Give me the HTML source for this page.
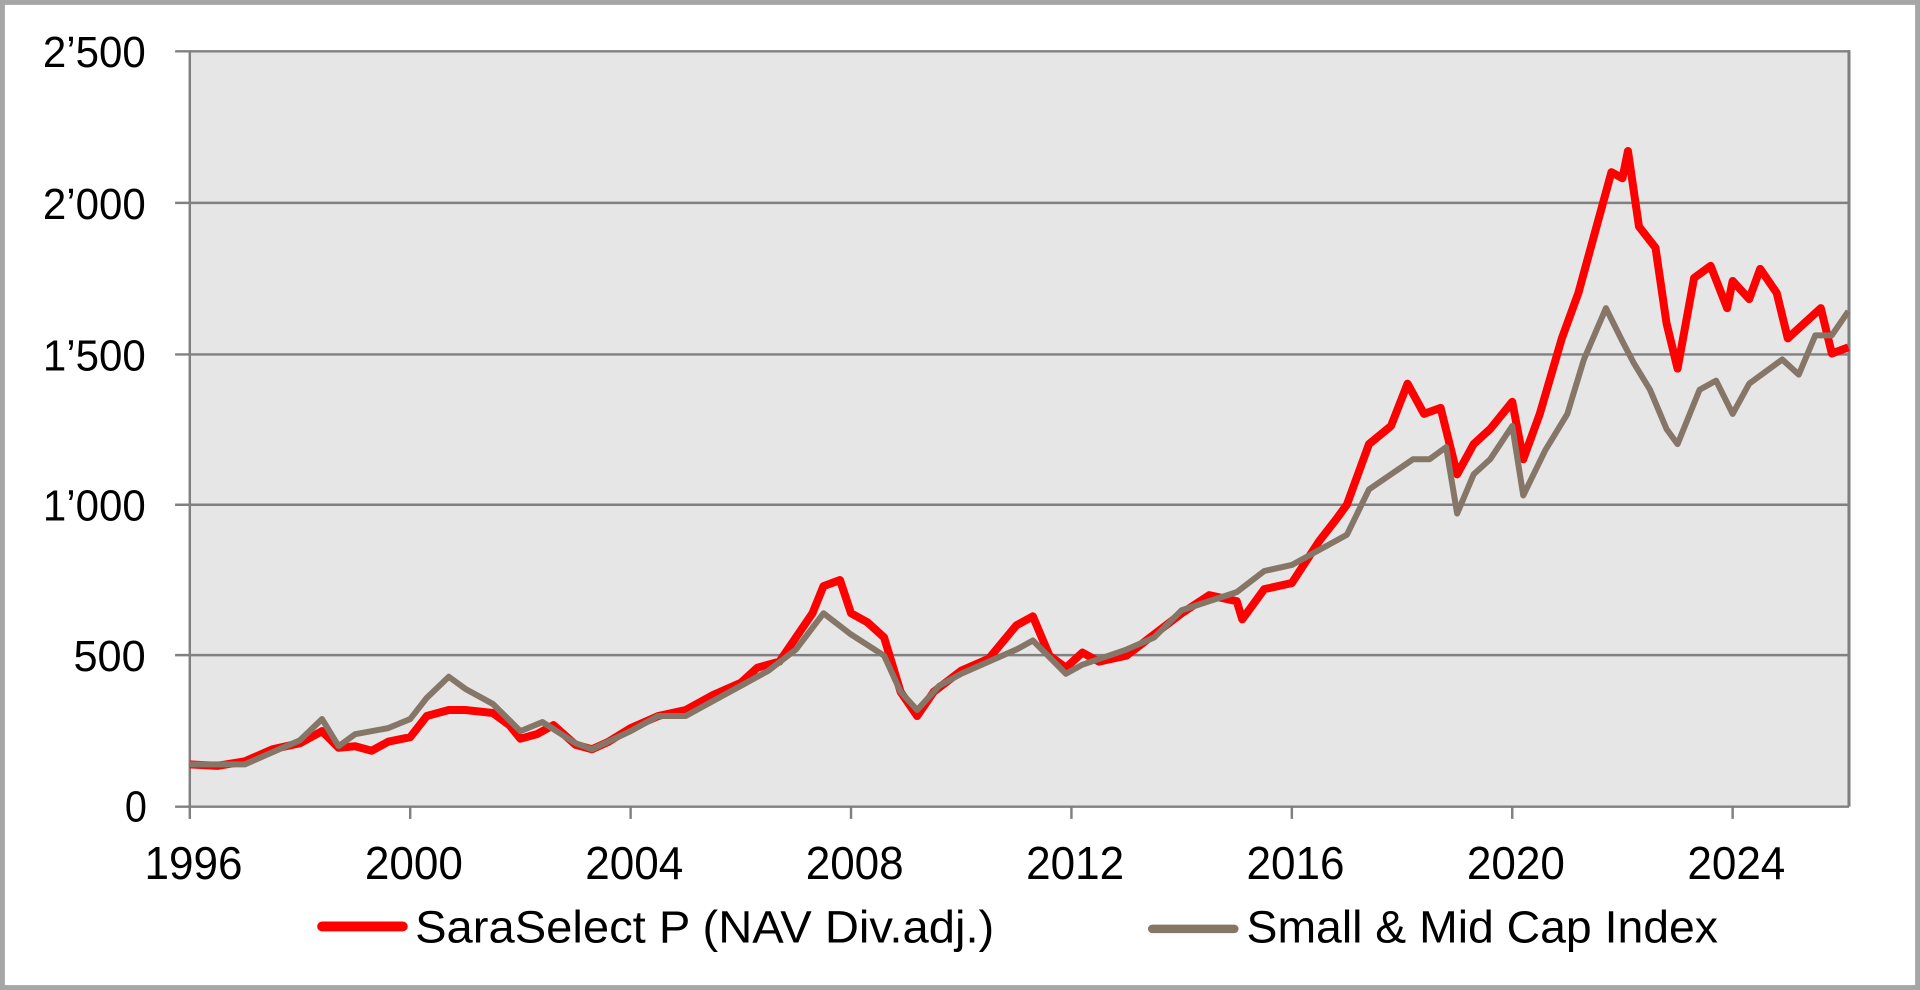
<!DOCTYPE html>
<html><head><style>html,body{margin:0;padding:0;background:#fff;width:1920px;height:990px;overflow:hidden}</style></head>
<body>
<svg width="1920" height="990" viewBox="0 0 1568 810" preserveAspectRatio="none" xmlns="http://www.w3.org/2000/svg" font-family="Liberation Sans, Arial, sans-serif">
<rect x="2" y="2" width="1564" height="806" fill="#fff" stroke="#a6a6a6" stroke-width="4"/>
<rect x="155" y="42" width="1355" height="618" fill="#e6e6e6"/>
<g stroke="#808080" stroke-width="2">
<line x1="143" y1="42" x2="1510" y2="42"/>
<line x1="143" y1="166" x2="1510" y2="166"/>
<line x1="143" y1="290" x2="1510" y2="290"/>
<line x1="143" y1="413" x2="1510" y2="413"/>
<line x1="143" y1="536" x2="1510" y2="536"/>
<line x1="143" y1="660" x2="1510" y2="660"/>
<line x1="155" y1="42" x2="155" y2="670"/>
<line x1="1510" y1="41" x2="1510" y2="660" stroke-width="2.5"/>
<line x1="335" y1="660" x2="335" y2="670"/><line x1="515" y1="660" x2="515" y2="670"/>
<line x1="695" y1="660" x2="695" y2="670"/><line x1="875" y1="660" x2="875" y2="670"/>
<line x1="1055" y1="660" x2="1055" y2="670"/><line x1="1235" y1="660" x2="1235" y2="670"/>
<line x1="1415" y1="660" x2="1415" y2="670"/>
</g>
<g font-size="36" fill="#000">
<text x="35" y="55" textLength="84" lengthAdjust="spacingAndGlyphs">2’500</text>
<text x="35" y="179" textLength="84" lengthAdjust="spacingAndGlyphs">2’000</text>
<text x="35" y="303" textLength="84" lengthAdjust="spacingAndGlyphs">1’500</text>
<text x="35" y="426" textLength="84" lengthAdjust="spacingAndGlyphs">1’000</text>
<text x="60" y="549" textLength="59" lengthAdjust="spacingAndGlyphs">500</text>
<text x="102" y="672" textLength="18" lengthAdjust="spacingAndGlyphs">0</text>
</g>
<g font-size="38" fill="#000">
<text x="118" y="719" textLength="80" lengthAdjust="spacingAndGlyphs">1996</text>
<text x="298" y="719" textLength="80" lengthAdjust="spacingAndGlyphs">2000</text>
<text x="478" y="719" textLength="80" lengthAdjust="spacingAndGlyphs">2004</text>
<text x="658" y="719" textLength="80" lengthAdjust="spacingAndGlyphs">2008</text>
<text x="838" y="719" textLength="80" lengthAdjust="spacingAndGlyphs">2012</text>
<text x="1018" y="719" textLength="80" lengthAdjust="spacingAndGlyphs">2016</text>
<text x="1198" y="719" textLength="80" lengthAdjust="spacingAndGlyphs">2020</text>
<text x="1378" y="719" textLength="80" lengthAdjust="spacingAndGlyphs">2024</text>
</g>
<g transform="translate(155,660) scale(45,-0.2472)" fill="none" stroke-linejoin="round">
<polyline vector-effect="non-scaling-stroke" stroke="#ff0000" stroke-width="8" points="0,140 0.5,135 1,150 1.5,190 2,210 2.4,250 2.7,195 3,200 3.3,185 3.6,215 4,230 4.3,300 4.7,320 5,320 5.5,310 5.8,270 6,225 6.3,240 6.6,270 7,205 7.3,190 7.6,215 8,260 8.5,300 9,320 9.5,370 10,410 10.3,460 10.7,480 11,560 11.3,640 11.5,730 11.8,750 12,640 12.3,610 12.6,560 12.9,380 13.2,300 13.5,380 14,450 14.5,490 15,600 15.3,630 15.6,500 15.9,460 16.2,510 16.5,480 17,500 17.5,570 18,640 18.5,700 19,680 19.1,620 19.5,720 20,740 20.5,880 20.8,950 21,1000 21.4,1200 21.8,1260 22.1,1400 22.4,1300 22.7,1320 23,1100 23.3,1200 23.6,1250 24,1340 24.2,1150 24.5,1300 24.9,1550 25.2,1700 25.5,1900 25.8,2100 26,2080 26.1,2170 26.3,1920 26.6,1850 26.8,1600 27,1450 27.3,1750 27.6,1790 27.9,1650 28,1740 28.3,1680 28.5,1780 28.8,1700 29,1550 29.3,1600 29.6,1650 29.8,1500 30.1,1520"/>
<polyline vector-effect="non-scaling-stroke" stroke="#857668" stroke-width="6" points="0,140 1,140 1.5,180 2,220 2.4,290 2.7,200 3,240 3.6,260 4,290 4.3,360 4.7,430 5,390 5.5,340 6,250 6.4,280 7,210 7.3,190 8,250 8.5,300 9,300 9.5,350 10,400 10.5,450 11,520 11.5,640 12,570 12.6,500 12.9,380 13.2,320 13.6,400 14,440 14.5,480 15,520 15.3,550 15.9,440 16.2,470 17,520 17.5,560 18,650 19,710 19.5,780 20,800 20.5,850 21,900 21.4,1050 21.8,1100 22.2,1150 22.5,1150 22.8,1190 23,970 23.3,1100 23.6,1150 24,1260 24.2,1030 24.6,1180 25,1300 25.3,1480 25.7,1650 26,1540 26.2,1470 26.5,1380 26.8,1250 27,1200 27.4,1380 27.7,1410 28,1300 28.3,1400 28.6,1440 28.9,1480 29.2,1430 29.5,1560 29.8,1560 30.1,1640"/>
</g>
<line x1="263" y1="758" x2="329" y2="758" stroke="#ff0000" stroke-width="8" stroke-linecap="round"/>
<text x="339" y="771" font-size="37" textLength="473" lengthAdjust="spacingAndGlyphs">SaraSelect P (NAV Div.adj.)</text>
<line x1="941" y1="760" x2="1008" y2="760" stroke="#857668" stroke-width="7" stroke-linecap="round"/>
<text x="1018" y="771" font-size="37" textLength="385" lengthAdjust="spacingAndGlyphs">Small &amp; Mid Cap Index</text>
</svg>
</body></html>
